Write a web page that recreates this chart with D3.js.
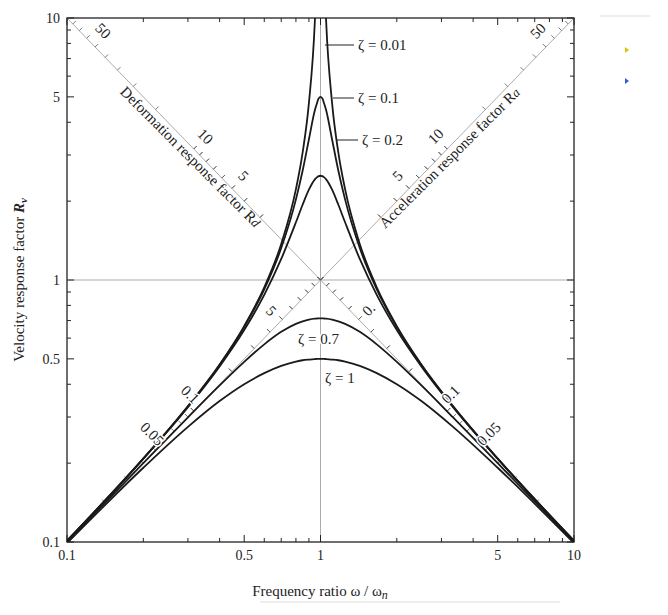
<!DOCTYPE html>
<html><head><meta charset="utf-8">
<script src="https://cdn.jsdelivr.net/npm/d3@7"></script>
<style>body{margin:0;background:#fff}text{font-family:"Liberation Serif","DejaVu Serif",serif;fill:#222}.h{stroke:#fff;stroke-width:3px;paint-order:stroke}</style>
</head><body><svg id="c" width="668" height="615"></svg>
<script>
const rLeft  = [0.1,0.2,0.3,0.4,0.5,0.6,0.7,0.8,0.85,0.9,0.95,0.97,0.98,1];
const rRight = [1,1.0204,1.031,1.0526,1.111,1.176,1.25,1.4286,1.667,2,2.5,3.333,5,10];
const zetas = ["0.01","0.1","0.2","0.7","1"];
const rvLeft = {
 "0.01":[0.101,0.208,0.330,0.476,0.667,0.938,1.373,2.222,3.062,4.734,9.72,16.4,24.5,50],
 "0.1": [0.101,0.208,0.329,0.474,0.661,0.921,1.324,2.031,2.612,3.439,4.448,4.75,4.9,5],
 "0.2": [0.101,0.208,0.327,0.468,0.644,0.878,1.203,1.661,1.937,2.211,2.422,2.47,2.485,2.5],
 "0.7": [0.100,0.200,0.299,0.396,0.487,0.568,0.634,0.680,0.695,0.706,0.712,0.713,0.714,0.714],
 "1":   [0.099,0.192,0.275,0.345,0.400,0.441,0.470,0.488,0.494,0.497,0.499,0.5,0.5,0.5]
};
const xTicks=[0.1,0.5,1,5,10], yTicks=[0.1,0.5,1,5,10];
const diagTL=[{v:50,r:0.125},{v:10,r:0.3162},{v:5,r:0.4472}];
const diagTR=[{v:50,r:8.0},{v:10,r:3.162},{v:5,r:2.236}];
const diagBL=[{v:"5",r:0.66},{v:"0.1",r:0.3162},{v:"0.05",r:0.2236}];
const diagBR=[{v:"0.",r:1.5},{v:"0.1",r:3.162},{v:"0.05",r:4.472}];

const svg=d3.select("#c");
const x=d3.scaleLog().domain([0.1,10]).range([67,574]);
const y=d3.scaleLog().domain([0.1,10]).range([542,18]);
svg.append("defs").append("clipPath").attr("id","cp").append("rect")
 .attr("x",67).attr("y",18).attr("width",507).attr("height",524);
const g=svg.append("g");
g.append("rect").attr("x",67).attr("y",18).attr("width",507).attr("height",524).attr("fill","none").attr("stroke","#222").attr("stroke-width",1.3);
g.append("line").attr("x1",x(1)).attr("x2",x(1)).attr("y1",18).attr("y2",542).attr("stroke","#888").attr("stroke-width",0.7);
g.append("line").attr("x1",67).attr("x2",574).attr("y1",y(1)).attr("y2",y(1)).attr("stroke","#888").attr("stroke-width",0.7);
g.append("line").attr("x1",x(0.1)).attr("y1",y(10)).attr("x2",x(10)).attr("y2",y(0.1)).attr("stroke","#888").attr("stroke-width",0.7);
g.append("line").attr("x1",x(0.1)).attr("y1",y(0.1)).attr("x2",x(10)).attr("y2",y(10)).attr("stroke","#888").attr("stroke-width",0.7);
const minors=[];for(let d=0.1;d<10;d*=10)for(let k=1;k<10;k++)minors.push(+(d*k).toFixed(3));minors.push(10);
minors.forEach(v=>{
 const L=(v==1||v==0.1||v==10||v==0.5||v==5)?7:4;
 g.append("line").attr("x1",x(v)).attr("x2",x(v)).attr("y1",542).attr("y2",542-L).attr("stroke","#222");
 g.append("line").attr("x1",x(v)).attr("x2",x(v)).attr("y1",18).attr("y2",18+L).attr("stroke","#222");
 g.append("line").attr("y1",y(v)).attr("y2",y(v)).attr("x1",67).attr("x2",67+L).attr("stroke","#222");
 g.append("line").attr("y1",y(v)).attr("y2",y(v)).attr("x1",574).attr("x2",574-L).attr("stroke","#222");
});
minors.forEach(v=>{
 [v, v*10, v/10].forEach(q=>{
  const rf=1/Math.sqrt(q); if(rf>0.1&&rf<10){const px=x(rf),py=y(1/rf);
   g.append("line").attr("x1",px).attr("y1",py).attr("x2",px+3).attr("y2",py-3).attr("stroke","#555").attr("stroke-width",0.8);}
  const rr=Math.sqrt(q); if(rr>0.1&&rr<10){const px=x(rr),py=y(rr);
   g.append("line").attr("x1",px).attr("y1",py).attr("x2",px-3).attr("y2",py-3).attr("stroke","#555").attr("stroke-width",0.8);}
 });
});
g.append("text").attr("transform",`translate(${x(0.32)-8},${y(1/0.32)+10}) rotate(45)`).attr("text-anchor","middle").attr("font-size",15).text("Deformation response factor R").append("tspan").attr("font-style","italic").attr("font-size",13).text("d");
g.append("text").attr("transform",`translate(${x(3.1)+8},${y(3.1)+10}) rotate(-45)`).attr("text-anchor","middle").attr("font-size",15).text("Acceleration response factor R").append("tspan").attr("font-style","italic").attr("font-size",13).text("a");
const line=d3.line().x(d=>x(d[0])).y(d=>y(d[1])).curve(d3.curveMonotoneX);
const cg=g.append("g").attr("clip-path","url(#cp)");
zetas.forEach(z=>{
 const L=rvLeft[z];
 const pts=rLeft.map((r,i)=>[r,L[i]]).concat(rRight.slice(1).map((r,i)=>[r,L[L.length-2-i]]));
 cg.append("path").attr("d",line(pts)).attr("fill","none").attr("stroke","#1a1a1a").attr("stroke-width",1.8);
});
function dlab(arr,fy,dx,dy,rot){arr.forEach(d=>{const px=x(d.r)+dx,py=y(fy(d.r))+dy;
 g.append("text").attr("class","h").attr("transform",`translate(${px},${py}) rotate(${rot})`).attr("text-anchor","middle").attr("font-size",15).text(d.v);});}
dlab(diagTL,r=>1/r,8,-9,45);
dlab(diagTR,r=>r,-8,-9,-45);
dlab(diagBL,r=>r,-7,-13,45);
dlab(diagBR,r=>1/r,7,-13,-45);
const zl=[["ζ = 0.01",358,50,325],["ζ = 0.1",358,103,333],["ζ = 0.2",362,145,337],["ζ = 0.7",298,344,null],["ζ = 1",325,383,null]];
zl.forEach(([t,tx,ty,lx])=>{
 g.append("text").attr("class",lx?null:"h").attr("x",tx).attr("y",ty).attr("font-size",15).text(t);
 if(lx)g.append("line").attr("x1",lx).attr("x2",tx-4).attr("y1",ty-5).attr("y2",ty-5).attr("stroke","#222");
});
xTicks.forEach(v=>g.append("text").attr("x",x(v)).attr("y",560).attr("text-anchor","middle").attr("font-size",14).text(v));
yTicks.forEach(v=>g.append("text").attr("x",60).attr("y",y(v)+5).attr("text-anchor","end").attr("font-size",14).text(v));
g.append("text").attr("x",320).attr("y",596).attr("text-anchor","middle").attr("font-size",15).text("Frequency ratio ω / ω").append("tspan").attr("font-style","italic").attr("font-size",12).attr("dy",3).text("n");
g.append("line").attr("x1",260).attr("x2",560).attr("y1",602).attr("y2",602).attr("stroke","#ddd");
g.append("text").attr("transform","translate(24,280) rotate(-90)").attr("text-anchor","middle").attr("font-size",15).text("Velocity response factor ").append("tspan").attr("font-weight","bold").attr("font-style","italic").text("R").append("tspan").attr("font-size",11).attr("dy",3).text("v");
g.append("line").attr("x1",600).attr("x2",650).attr("y1",16).attr("y2",16).attr("stroke","#ddd");
g.append("path").attr("d","M625,47 l4,3 l-4,3 z").attr("fill","#d8c400");
g.append("path").attr("d","M625,78 l4,3 l-4,3 z").attr("fill","#3060d0");
</script></body></html>
